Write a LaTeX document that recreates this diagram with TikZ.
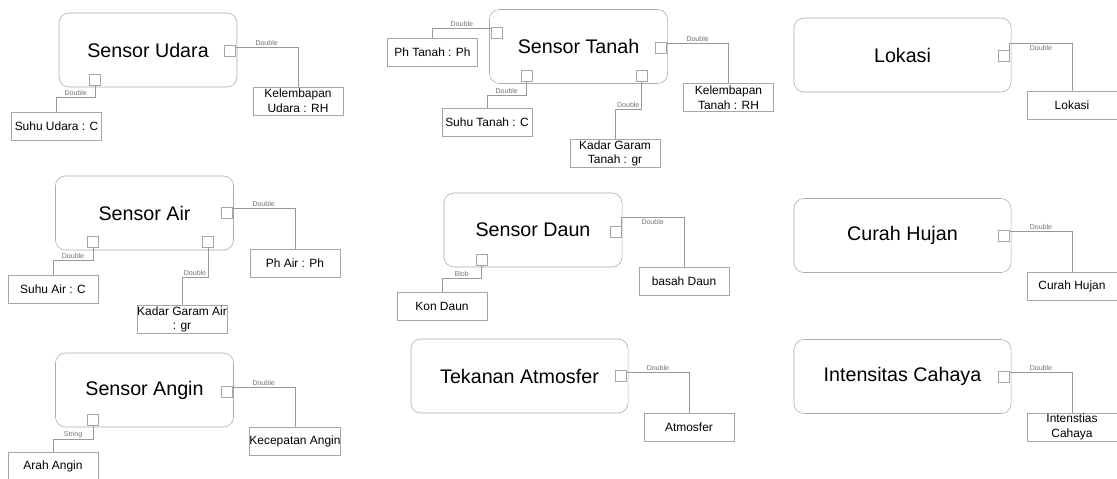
\documentclass[tikz,border=0pt]{standalone}
\usepackage{fontspec}
\setmainfont{Liberation Sans}
\begin{document}
\begin{tikzpicture}[x=0.025cm, y=-0.025cm,
    ent/.style={draw=gray!65, rounded corners=0.25cm, minimum width=4.45cm, minimum height=1.85cm, font=\fontsize{14}{16}\selectfont},
    entw/.style={ent, minimum width=5.425cm},
    attr/.style={draw=gray!70, minimum width=2.25cm, minimum height=0.7cm, inner sep=0pt, align=center, font=\fontsize{8.5}{10.4}\selectfont},
    port/.style={draw=gray!70, fill=white, minimum size=0.275cm, inner sep=0pt},
    lbl/.style={font=\fontsize{5}{6}\selectfont, text=gray!90!black, inner sep=1pt},
    conn/.style={draw=gray!80, line width=0.5pt}]
   \path[use as bounding box, fill=white] (0,0) rectangle (1117,479);

   \node[ent] (U) at (148,50) {Sensor Udara};
   \node[port] (pUr) at (229.5,51) {};
   \node[port] (pUb) at (95,79.5) {};
   \node[attr] (aUrh) at (298,101) {Kelembapan\\Udara : RH};
   \node[attr] (aUc) at (56.5,126) {Suhu Udara : C};
   \draw[conn] (pUr.north east) ++(0,2) -| node[lbl, pos=.25, above] {Double} (aUrh.north);
   \draw[conn] (pUb.south) -- ++(0,12) -| node[lbl, pos=.25, above] {Double} (aUc.north);

   \node[ent] (T) at (578.5,46.5) {Sensor Tanah};
   \node[port] (pTl) at (497,32.5) {};
   \node[port] (pTr) at (661,47.5) {};
   \node[port] (pTb1) at (526.5,76) {};
   \node[port] (pTb2) at (641.5,76) {};
   \node[attr] (aTph) at (432.5,52) {Ph Tanah : Ph};
   \node[attr] (aTrh) at (728.5,97.5) {Kelembapan\\Tanah : RH};
   \node[attr] (aTc) at (487,122.5) {Suhu Tanah : C};
   \node[attr] (aTgr) at (615,153.5) {Kadar Garam\\Tanah : gr};
   \draw[conn] (pTl.north west) ++(0,2) -| node[lbl, pos=.25, above] {Double} (aTph.north);
   \draw[conn] (pTr.north east) ++(0,2) -| node[lbl, pos=.25, above] {Double} (aTrh.north);
   \draw[conn] (pTb1.south) -- ++(0,14) -| node[lbl, pos=.25, above] {Double} (aTc.north);
   \draw[conn] (pTb2.south) -- ++(0,28) -| node[lbl, pos=.25, above] {Double} (aTgr.north);

   \node[entw] (L) at (902.5,55) {Lokasi};
   \node[port] (pLr) at (1004,55.5) {};
   \node[attr] (aL) at (1072,105.5) {Lokasi};
   \draw[conn] (pLr.north east) -- ++(0,-6) -| node[lbl, pos=.25, below] {Double} (aL.north);

   \node[ent] (A) at (144.5,213) {Sensor Air};
   \node[port] (pAr) at (226.5,212.5) {};
   \node[port] (pAb1) at (93,241.5) {};
   \node[port] (pAb2) at (208,241.5) {};
   \node[attr] (aAph) at (295,263) {Ph Air : Ph};
   \node[attr] (aAc) at (53,289) {Suhu Air : C};
   \node[attr] (aAgr) at (182,319.5) {Kadar Garam Air\\: gr};
   \draw[conn] (pAr.north east) ++(0,2) -| node[lbl, pos=.25, above] {Double} (aAph.north);
   \draw[conn] (pAb1.south) -- ++(0,13) -| node[lbl, pos=.25, above] {Double} (aAc.north);
   \draw[conn] (pAb2.south) -- ++(0,30) -| node[lbl, pos=.25, above] {Double} (aAgr.north);

   \node[ent] (D) at (533,230) {Sensor Daun};
   \node[port] (pDr) at (615.5,231.5) {};
   \node[port] (pDb) at (481.5,259.5) {};
   \node[attr] (aDb) at (684,281) {basah Daun};
   \node[attr] (aDk) at (442,306) {Kon Daun};
   \draw[conn] (pDr.north east) -- ++(0,-8) -| node[lbl, pos=.25, below] {Double} (aDb.north);
   \draw[conn] (pDb.south) -- ++(0,13) -| node[lbl, pos=.25, above] {Blob} (aDk.north);

   \node[entw] (C) at (902.5,235.5) {Curah Hujan};
   \node[port] (pCr) at (1004,235.5) {};
   \node[attr] (aC) at (1072,286) {Curah Hujan};
   \draw[conn] (pCr.north east) ++(0,2) -| node[lbl, pos=.25, above] {Double} (aC.north);

   \node[ent] (G) at (144.5,390) {Sensor Angin};
   \node[port] (pGr) at (226.5,391.5) {};
   \node[port] (pGb) at (93,419.5) {};
   \node[attr] (aGv) at (295,441) {Kecepatan Angin};
   \node[attr] (aGa) at (53,466) {Arah Angin};
   \draw[conn] (pGr.north east) ++(0,2) -| node[lbl, pos=.25, above] {Double} (aGv.north);
   \draw[conn] (pGb.south) -- ++(0,14) -| node[lbl, pos=.25, above] {String} (aGa.north);

   \node[entw] (P) at (519.5,376) {Tekanan Atmosfer};
   \node[port] (pPr) at (621,376) {};
   \node[attr] (aP) at (689,427) {Atmosfer};
   \draw[conn] (pPr.north east) ++(0,2) -| node[lbl, pos=.25, above] {Double} (aP.north);

   \node[entw] (I) at (902.5,376.5) {Intensitas Cahaya};
   \node[port] (pIr) at (1004,376.5) {};
   \node[attr] (aI) at (1072,427) {Intenstias\\Cahaya};
   \draw[conn] (pIr.north east) ++(0,2) -| node[lbl, pos=.25, above] {Double} (aI.north);
\end{tikzpicture}
\end{document}
